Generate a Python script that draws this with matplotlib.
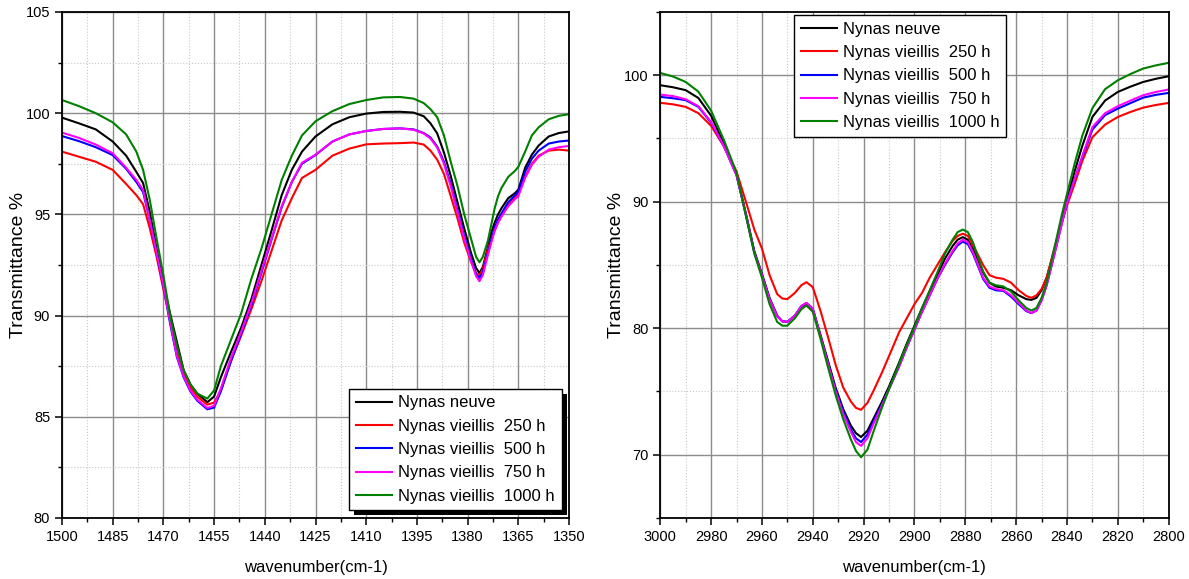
import matplotlib
matplotlib.use("Agg")

import matplotlib.pyplot as plt
from matplotlib.patches import Rectangle
from matplotlib.ticker import MultipleLocator
from matplotlib.transforms import IdentityTransform

plt.rcParams["font.family"] = ["Liberation Sans", "DejaVu Sans"]

LABELS = ["Nynas neuve", "Nynas vieillis  250 h", "Nynas vieillis  500 h",
          "Nynas vieillis  750 h", "Nynas vieillis  1000 h"]
COLORS = ["black", "#ff0000", "#0000ff", "#ff00ff", "#008000"]

# --- left panel: 1500-1350 cm-1 ---------------------------------------------
wn_left = [1500, 1495, 1490, 1485, 1481, 1478, 1476, 1474, 1472, 1470,
           1468, 1466, 1464, 1462, 1460, 1457, 1455, 1453, 1450, 1447,
           1444, 1441, 1438, 1435, 1432, 1429, 1425, 1420, 1415, 1410,
           1405, 1400, 1396, 1393, 1391, 1389, 1387, 1385, 1383, 1381,
           1379, 1377.5, 1376.5, 1375.5, 1374, 1373, 1372, 1371, 1370, 1368,
           1366, 1365, 1363, 1361, 1359, 1356, 1353, 1350]

neuve_left = [99.78, 99.5, 99.2, 98.6, 97.9, 97.1, 96.55, 95.1, 93.3, 91.6,
              90.1, 88.7, 87.3, 86.6, 86.15, 85.72, 86.0, 86.95, 88.2, 89.4,
              90.8, 92.5, 94.2, 95.95, 97.2, 98.1, 98.85, 99.45, 99.8, 99.98,
              100.06, 100.07, 100.03, 99.85, 99.5, 99.0, 98.05, 96.9, 95.6, 94.3,
              93.1, 92.35, 92.1, 92.4, 93.4, 94.1, 94.6, 95.0, 95.3, 95.8,
              96.05, 96.22, 97.3, 97.95, 98.4, 98.85, 99.02, 99.1]
h250_left = [98.1, 97.85, 97.6, 97.2, 96.5, 95.95, 95.5, 94.3, 92.9, 91.3,
             89.8, 88.2, 87.1, 86.45, 86.0, 85.6, 85.7, 86.3, 87.75, 89.0,
             90.3, 91.7, 93.2, 94.7, 95.8, 96.8, 97.2, 97.9, 98.25, 98.46,
             98.5, 98.52, 98.55, 98.45, 98.15, 97.7, 97.0, 95.9, 94.8, 93.6,
             92.65, 92.1, 92.0, 92.3, 93.3, 93.75, 94.2, 94.6, 94.9, 95.45,
             95.85, 96.05, 96.85, 97.5, 97.9, 98.15, 98.2, 98.15]
h500_left = [98.87, 98.62, 98.32, 97.93, 97.25, 96.6, 96.1, 94.7, 93.1, 91.45,
             89.6, 87.95, 86.95, 86.25, 85.8, 85.37, 85.45, 86.25, 87.75, 89.1,
             90.5, 92.1, 93.75, 95.35, 96.6, 97.5, 97.93, 98.6, 98.95, 99.12,
             99.22, 99.25, 99.2, 99.02, 98.8, 98.35, 97.6, 96.5, 95.2, 93.9,
             92.8, 92.05, 91.85, 92.15, 93.1, 93.75, 94.35, 94.75, 95.05, 95.6,
             95.95, 96.13, 97.1, 97.75, 98.15, 98.5, 98.6, 98.65]
h750_left = [99.04, 98.78, 98.45, 98.02, 97.3, 96.7, 96.2, 94.7, 93.1, 91.5,
             89.7, 88.0, 87.0, 86.3, 85.85, 85.43, 85.55, 86.4, 87.9, 89.2,
             90.6, 92.2, 93.8, 95.4, 96.6, 97.55, 97.95, 98.6, 98.95, 99.12,
             99.22, 99.25, 99.18, 99.0, 98.75, 98.3, 97.5, 96.4, 95.1, 93.8,
             92.7, 91.95, 91.7, 92.0, 93.0, 93.6, 94.2, 94.6, 94.9, 95.4,
             95.75, 95.9, 96.8, 97.45, 97.85, 98.2, 98.32, 98.38]
h1000_left = [100.65, 100.35, 100.0, 99.55, 98.95, 98.1, 97.2, 95.7, 93.8, 92.0,
              90.0, 88.5, 87.3, 86.6, 86.15, 85.9, 86.3, 87.5, 88.8, 90.1,
              91.8, 93.3, 95.0, 96.7, 97.9, 98.9, 99.6, 100.1, 100.45, 100.65,
              100.78, 100.8, 100.72, 100.5, 100.2, 99.8, 98.9, 97.6, 96.4, 95.0,
              93.8, 92.9, 92.63, 92.9, 93.7, 94.5, 95.3, 95.9, 96.3, 96.85,
              97.15, 97.35, 98.1, 98.9, 99.3, 99.7, 99.87, 99.95]

# --- right panel: 3000-2800 cm-1 --------------------------------------------
wn_right = [3000, 2995, 2990, 2985, 2980, 2975, 2970, 2966, 2963, 2960,
            2957, 2954, 2952, 2950, 2947, 2944.5, 2942.5, 2940, 2937, 2934,
            2931, 2928, 2925, 2923, 2921, 2918.5, 2916, 2913, 2910, 2906,
            2903, 2900, 2897, 2894, 2891, 2888, 2885, 2883, 2881, 2879,
            2877, 2875, 2873, 2870.5, 2868, 2865, 2862, 2859, 2856, 2854,
            2852, 2850, 2848, 2845, 2842, 2840, 2837, 2834, 2830, 2825,
            2820, 2815, 2810, 2805, 2800]

neuve_right = [99.21, 99.05, 98.82, 98.2, 96.8, 94.6, 92.2, 88.8, 86.1, 84.3,
               82.4, 81.0, 80.55, 80.5, 81.0, 81.7, 81.9, 81.5, 79.5, 77.4,
               75.3, 73.6, 72.3, 71.7, 71.4, 71.9, 72.9, 74.1, 75.4, 77.3,
               78.8, 80.2, 81.6, 82.9, 84.2, 85.5, 86.5, 87.0, 87.2, 87.0,
               86.3, 85.4, 84.4, 83.6, 83.3, 83.2, 83.0, 82.6, 82.3, 82.24,
               82.4, 83.0, 84.0, 86.1, 88.6, 90.1, 92.4, 94.4, 96.7, 98.0,
               98.68, 99.1, 99.47, 99.72, 99.92]
h250_right = [97.82, 97.7, 97.5, 97.0, 96.0, 94.4, 92.4, 89.8, 87.8, 86.3,
              84.2, 82.7, 82.35, 82.3, 82.8, 83.4, 83.64, 83.25, 81.4, 79.3,
              77.1, 75.3, 74.2, 73.7, 73.55, 74.1, 75.1, 76.4, 77.8, 79.7,
              80.8, 81.9, 82.8, 84.0, 85.0, 86.0, 86.9, 87.3, 87.47, 87.3,
              86.6, 85.8, 85.0, 84.2, 84.0, 83.9, 83.6, 83.0, 82.55, 82.4,
              82.6, 83.1, 84.0, 86.3, 88.4, 89.7, 91.4, 93.2, 95.1, 96.1,
              96.7, 97.1, 97.44, 97.65, 97.81]
h500_right = [98.29, 98.18, 98.03, 97.5, 96.25, 94.4, 92.1, 88.7, 86.0, 84.2,
              82.3, 80.95, 80.55, 80.5, 81.0, 81.75, 82.0, 81.55, 79.4, 77.3,
              75.1, 73.4, 72.0, 71.3, 71.0, 71.6, 72.7, 73.9, 75.2, 77.0,
              78.5, 79.9, 81.3, 82.6, 83.9, 85.0, 86.0, 86.55, 86.85, 86.65,
              85.9, 84.9, 83.9, 83.2, 83.0, 82.95, 82.5, 81.9, 81.35, 81.19,
              81.4, 82.2, 83.4, 85.8, 88.3, 89.9, 91.8, 93.5, 95.7, 96.85,
              97.36, 97.8, 98.23, 98.45, 98.6]
h750_right = [98.47, 98.35, 98.1, 97.55, 96.3, 94.4, 92.1, 88.7, 86.0, 84.2,
              82.3, 80.95, 80.55, 80.5, 81.0, 81.75, 82.0, 81.55, 79.4, 77.2,
              75.0, 73.2, 71.8, 71.0, 70.7, 71.3, 72.5, 73.8, 75.2, 77.0,
              78.5, 79.9, 81.3, 82.6, 83.9, 85.1, 86.1, 86.7, 87.0, 86.8,
              86.0, 85.0, 84.0, 83.3, 83.1, 83.0, 82.6, 82.0, 81.4, 81.2,
              81.4, 82.2, 83.4, 85.8, 88.3, 89.9, 91.8, 93.6, 95.9, 97.0,
              97.55, 98.0, 98.42, 98.68, 98.87]
h1000_right = [100.18, 99.9, 99.47, 98.7, 97.2, 94.9, 92.3, 88.6, 85.9, 84.0,
               81.9, 80.5, 80.2, 80.2, 80.8, 81.5, 81.8, 81.3, 79.2, 76.9,
               74.7, 72.8, 71.2, 70.3, 69.8, 70.4, 71.9, 73.6, 75.2, 77.2,
               78.7, 80.1, 81.6, 83.0, 84.4, 85.9, 87.0, 87.6, 87.8, 87.6,
               86.8, 85.6, 84.5, 83.6, 83.4, 83.3, 82.9, 82.2, 81.6, 81.4,
               81.6, 82.4, 83.6, 86.3, 89.0, 90.6, 93.0, 95.2, 97.4, 98.9,
               99.6, 100.1, 100.53, 100.78, 100.98]

series_left = [neuve_left, h250_left, h500_left, h750_left, h1000_left]
series_right = [neuve_right, h250_right, h500_right, h750_right, h1000_right]


def style_axis(ax, xlim, xmaj, xmin, ylim, ymaj, ymin):
    ax.set_xlim(*xlim)
    ax.set_ylim(*ylim)
    ax.xaxis.set_major_locator(MultipleLocator(xmaj))
    ax.xaxis.set_minor_locator(MultipleLocator(xmin))
    ax.yaxis.set_major_locator(MultipleLocator(ymaj))
    ax.yaxis.set_minor_locator(MultipleLocator(ymin))
    ax.grid(which="major", color="#8c8c8c", lw=1.0, ls="-")
    ax.grid(which="minor", color="#c8c8c8", lw=0.8, ls=":")
    ax.set_axisbelow(True)
    ax.tick_params(which="major", direction="out", length=5, width=1.1,
                   labelsize=10.5, top=False, right=False)
    ax.tick_params(which="minor", direction="out", length=3, width=1.0,
                   top=False, right=False)
    for sp in ax.spines.values():
        sp.set_linewidth(1.3)
        sp.set_color("black")
    ax.set_xlabel("wavenumber(cm-1)", fontsize=12, labelpad=12)
    ax.set_ylabel("Transmittance %", fontsize=14, labelpad=-1)


fig = plt.figure(figsize=(11.89, 5.79), dpi=100)
ax1 = fig.add_axes([0.0521, 0.1054, 0.4265, 0.8739])
ax2 = fig.add_axes([0.5553, 0.1054, 0.4276, 0.8739])

for ys, label, color in zip(series_left, LABELS, COLORS):
    ax1.plot(wn_left, ys, color=color, lw=1.5, label=label)
for ys, label, color in zip(series_right, LABELS, COLORS):
    ax2.plot(wn_right, ys, color=color, lw=1.5, label=label)

style_axis(ax1, (1500, 1350), 15, 7.5, (80, 105), 5, 2.5)
style_axis(ax2, (3000, 2800), 20, 10, (65, 105), 10, 5)

leg_kw = dict(fontsize=12, frameon=True, fancybox=False, framealpha=1,
              edgecolor="black", handlelength=2.2, handletextpad=0.35,
              labelspacing=0.5, borderpad=0.4)
leg1 = ax1.legend(loc="lower right", borderaxespad=0.45, **leg_kw)
leg2 = ax2.legend(loc="upper left", bbox_to_anchor=(0.263, 0.994),
                  borderaxespad=0, **leg_kw)
for leg in (leg1, leg2):
    leg.get_frame().set_linewidth(1.0)
    leg.set_zorder(6)

# solid drop shadow behind the left legend
fig.canvas.draw()
bb = leg1.get_window_extent()
ax1.add_artist(Rectangle((bb.x0 + 5, bb.y0 - 5), bb.width, bb.height,
                         transform=IdentityTransform(), facecolor="black",
                         edgecolor="none", zorder=5))

fig.savefig("out.png", dpi=100)
